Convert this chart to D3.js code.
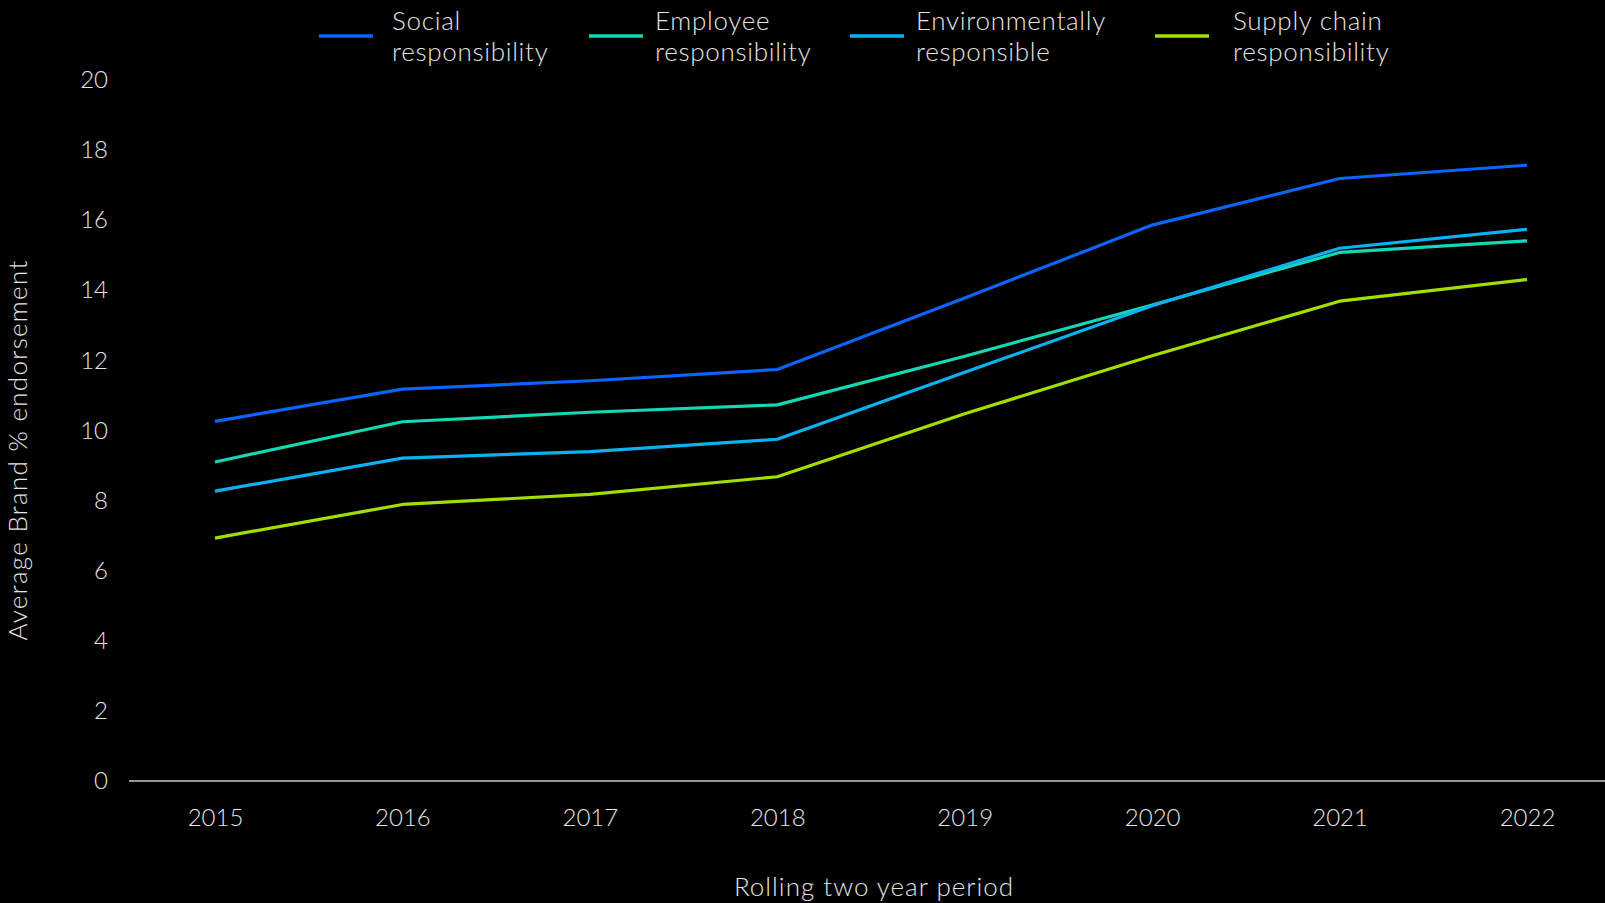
<!DOCTYPE html>
<html>
<head>
<meta charset="utf-8">
<script src="https://cdn.jsdelivr.net/npm/d3@7/dist/d3.min.js"></script>
<style>
  html, body { margin: 0; padding: 0; background: #000; }
  svg { display: block; }
  text { font-family: Lato, "Open Sans", sans-serif; font-weight: 300; fill: #e4e4e4; }
</style>
</head>
<body>
<svg id="chart" width="1605" height="903"></svg>
<script>
// Rolling two-year periods
const years = ["2015", "2016", "2017", "2018", "2019", "2020", "2021", "2022"];

// Average brand % endorsement per attribute
const social        = [10.26, 11.18, 11.42, 11.74, 13.78, 15.86, 17.19, 17.57];
const employee      = [9.10, 10.25, 10.52, 10.73, 12.12, 13.58, 15.08, 15.41];
const environmental = [8.27, 9.21, 9.40, 9.75, 11.66, 13.56, 15.20, 15.74];
const supplyChain   = [6.93, 7.89, 8.18, 8.68, 10.48, 12.13, 13.69, 14.31];

const seriesNames = [
  ["Social", "responsibility"],
  ["Employee", "responsibility"],
  ["Environmentally", "responsible"],
  ["Supply chain", "responsibility"]
];
const seriesColors = ["#0b64fb", "#14d7b5", "#0cb2f0", "#a0df00"];
const yTicks = [0, 2, 4, 6, 8, 10, 12, 14, 16, 18, 20];

const series = [social, employee, environmental, supplyChain].map((vals, i) => ({
  name: seriesNames[i],
  color: seriesColors[i],
  values: vals.map((v, j) => ({ year: years[j], value: v }))
}));

const svg = d3.select("#chart");

const x = d3.scalePoint().domain(years).range([215, 1527]);
const y = d3.scaleLinear().domain([0, 20]).range([781, 80]);

// Baseline along the x axis
svg.append("line")
  .attr("x1", 129).attr("x2", 1605)
  .attr("y1", y(0)).attr("y2", y(0))
  .attr("stroke", "#c8c8c8").attr("stroke-width", 1.5);

// Y axis tick labels
const yAxis = svg.append("g")
  .attr("transform", "translate(108,0)")
  .call(d3.axisLeft(y).tickValues(yTicks).tickSize(0).tickPadding(0));
yAxis.select(".domain").remove();
yAxis.selectAll("text")
  .attr("font-size", 24)
  .attr("fill", "#e4e4e4")
  .style("font-family", "Lato, 'Open Sans', sans-serif");

// X axis tick labels
const xAxis = svg.append("g")
  .attr("transform", "translate(0,803)")
  .call(d3.axisBottom(x).tickSize(0).tickPadding(0));
xAxis.select(".domain").remove();
xAxis.selectAll("text")
  .attr("font-size", 24)
  .attr("fill", "#e4e4e4")
  .attr("dy", "0.95em")
  .style("font-family", "Lato, 'Open Sans', sans-serif");

// Axis titles
svg.append("text")
  .attr("x", 874).attr("y", 896)
  .attr("text-anchor", "middle")
  .attr("font-size", 26)
  .attr("letter-spacing", 1)
  .text("Rolling two year period");

svg.append("text")
  .attr("transform", "translate(27,450) rotate(-90)")
  .attr("text-anchor", "middle")
  .attr("font-size", 26)
  .attr("letter-spacing", 1.3)
  .text("Average Brand % endorsement");

// Lines
const line = d3.line()
  .x(d => x(d.year))
  .y(d => y(d.value));

svg.append("g")
  .selectAll("path")
  .data(series)
  .join("path")
  .attr("d", d => line(d.values))
  .attr("fill", "none")
  .attr("stroke", d => d.color)
  .attr("stroke-width", 3.2)
  .attr("stroke-linejoin", "round");

// Legend
const legendX = [319, 589, 850, 1155];
const legend = svg.append("g")
  .selectAll("g")
  .data(series)
  .join("g")
  .attr("transform", (d, i) => `translate(${legendX[i]},0)`);

legend.append("line")
  .attr("x1", 0).attr("x2", 54)
  .attr("y1", 36).attr("y2", 36)
  .attr("stroke", d => d.color)
  .attr("stroke-width", 3.5);

legend.append("text")
  .attr("x", (d, i) => [73, 66, 66, 78][i])
  .attr("font-size", 26)
  .attr("letter-spacing", 0.7)
  .selectAll("tspan")
  .data(d => d.name)
  .join("tspan")
  .attr("x", function () { return d3.select(this.parentNode).attr("x"); })
  .attr("y", (d, i) => 30 + i * 31)
  .text(d => d);
</script>
</body>
</html>
